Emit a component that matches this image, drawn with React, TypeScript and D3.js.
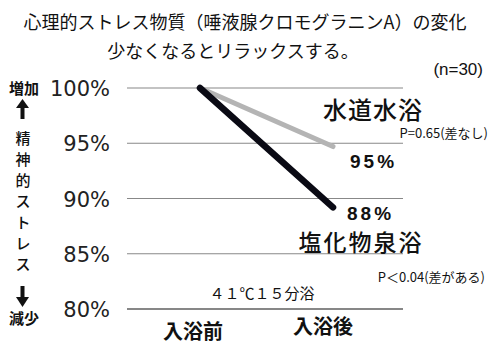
import { useEffect, useRef } from 'react';
import * as d3 from 'd3';

const CATEGORIES = ['入浴前', '入浴後'];
const Y_TICKS = [80, 85, 90, 95, 100];
const TAP_WATER = [100, 94.7];
const CHLORIDE = [100, 89.2];
const TAP_LABEL = '95%';
const CHLORIDE_LABEL = '88%';

const JP = '"Noto Sans CJK JP", sans-serif';
const NUM = '"DejaVu Sans", sans-serif';
const SANS = '"Liberation Sans", Arial, sans-serif';

export default function App() {
  const svgRef = useRef<SVGSVGElement>(null);

  useEffect(() => {
    if (!svgRef.current) return;
    const svg = d3.select(svgRef.current);
    svg.selectAll('*').remove();

    const y = d3.scaleLinear().domain([80, 100]).range([309, 88]);
    const x = d3.scalePoint<string>().domain(CATEGORIES).range([200, 333]);
    const gridX0 = 127;
    const gridX1 = 403;

    svg.append('rect').attr('width', 500).attr('height', 355).attr('fill', '#fff');

    // title
    svg.append('text').attr('x', 245).attr('y', 29).attr('text-anchor', 'middle')
      .attr('font-family', JP).attr('font-size', 18).attr('fill', '#111')
      .text('心理的ストレス物質（唾液腺クロモグラニンA）の変化');
    svg.append('text').attr('x', 233).attr('y', 58).attr('text-anchor', 'middle')
      .attr('font-family', JP).attr('font-size', 18).attr('fill', '#111')
      .text('少なくなるとリラックスする。');
    svg.append('text').attr('x', 483).attr('y', 75).attr('text-anchor', 'end')
      .attr('font-family', SANS).attr('font-size', 17).attr('fill', '#111')
      .text('(n=30)');

    // grid lines
    svg.selectAll('line.grid').data(Y_TICKS).join('line')
      .attr('class', 'grid')
      .attr('x1', gridX0).attr('x2', gridX1)
      .attr('y1', d => y(d)).attr('y2', d => y(d))
      .attr('stroke', d => d === 80 ? '#111' : '#888')
      .attr('stroke-width', 1.2);

    // tick labels
    svg.selectAll('text.tick').data(Y_TICKS).join('text')
      .attr('class', 'tick')
      .attr('x', 110).attr('y', d => y(d) + 8)
      .attr('text-anchor', 'end')
      .attr('font-family', NUM).attr('font-size', 21).attr('fill', '#222')
      .text(d => `${d}%`);

    // left axis description
    const left = svg.append('g').attr('font-family', JP).attr('fill', '#111')
      .attr('text-anchor', 'middle');
    left.append('text').attr('x', 24).attr('y', 94).attr('font-size', 15)
      .attr('font-weight', 700).text('増加');
    const vert = ['精', '神', '的', 'ス', 'ト', 'レ', 'ス'];
    left.selectAll('text.v').data(vert).join('text')
      .attr('class', 'v')
      .attr('x', 23).attr('y', (_, i) => 144 + i * 21)
      .attr('font-size', 15).attr('font-weight', 500)
      .text(d => d);
    left.append('text').attr('x', 24).attr('y', 324).attr('font-size', 15)
      .attr('font-weight', 700).text('減少');

    // arrows
    const arrows = svg.append('g').attr('fill', '#111');
    arrows.append('path').attr('d', 'M22.5,99 L29,108 L16,108 Z');
    arrows.append('rect').attr('x', 20.5).attr('y', 107).attr('width', 4).attr('height', 12);
    arrows.append('rect').attr('x', 20.5).attr('y', 286).attr('width', 4).attr('height', 12);
    arrows.append('path').attr('d', 'M16,297 L29,297 L22.5,307 Z');

    // lines
    const line = d3.line<number>().x((_, i) => x(CATEGORIES[i])!).y(d => y(d));
    svg.append('path').attr('d', line(TAP_WATER))
      .attr('fill', 'none').attr('stroke', '#b4b4b4').attr('stroke-width', 5)
      .attr('stroke-linecap', 'round');
    svg.append('path').attr('d', line(CHLORIDE))
      .attr('fill', 'none').attr('stroke', '#0a0a14').attr('stroke-width', 6.5)
      .attr('stroke-linecap', 'round');

    // annotations
    svg.append('text').attr('x', 373).attr('y', 119).attr('text-anchor', 'middle')
      .attr('font-family', JP).attr('font-size', 24).attr('font-weight', 500)
      .attr('letter-spacing', 1).attr('fill', '#111')
      .text('水道水浴');
    svg.append('text').attr('x', 488).attr('y', 138).attr('text-anchor', 'end')
      .attr('font-family', JP).attr('font-size', 13).attr('fill', '#111')
      .text('P=0.65(差なし)');
    svg.append('text').attr('x', 350).attr('y', 168)
      .attr('font-family', SANS).attr('font-size', 19).attr('font-weight', 700)
      .attr('letter-spacing', 3).attr('fill', '#111')
      .text(TAP_LABEL);
    svg.append('text').attr('x', 347).attr('y', 220)
      .attr('font-family', SANS).attr('font-size', 19).attr('font-weight', 700)
      .attr('letter-spacing', 3).attr('fill', '#111')
      .text(CHLORIDE_LABEL);
    svg.append('text').attr('x', 361).attr('y', 251).attr('text-anchor', 'middle')
      .attr('font-family', JP).attr('font-size', 23).attr('font-weight', 500)
      .attr('letter-spacing', 2).attr('fill', '#111')
      .text('塩化物泉浴');
    svg.append('text').attr('x', 485).attr('y', 282).attr('text-anchor', 'end')
      .attr('font-family', JP).attr('font-size', 13).attr('fill', '#111')
      .text('P＜0.04(差がある)');
    svg.append('text').attr('x', 262).attr('y', 299).attr('text-anchor', 'middle')
      .attr('font-family', JP).attr('font-size', 15).attr('fill', '#111')
      .text('４１℃１５分浴');

    // category labels
    svg.selectAll('text.cat').data(CATEGORIES).join('text')
      .attr('class', 'cat')
      .attr('x', (d, i) => i === 0 ? 193 : 323)
      .attr('y', (d, i) => i === 0 ? 339 : 334)
      .attr('text-anchor', 'middle')
      .attr('font-family', JP).attr('font-size', 20).attr('font-weight', 700).attr('fill', '#111')
      .text(d => d);
  }, []);

  return (
    <svg ref={svgRef} width={500} height={355}
      style={{ position: 'absolute', left: 0, top: 0, display: 'block' }} />
  );
}
